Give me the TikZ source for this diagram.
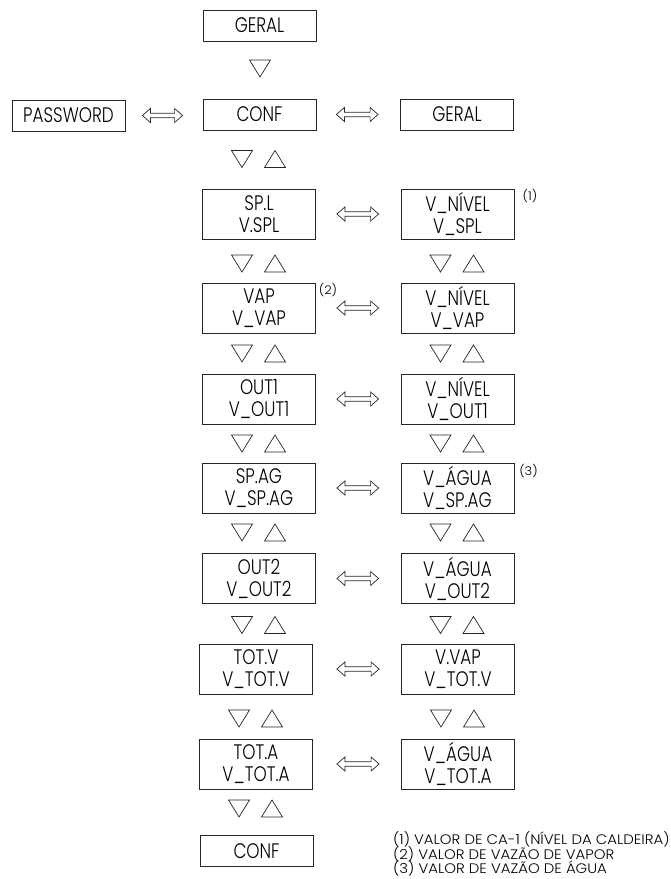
\documentclass[tikz,border=0pt]{standalone}
\usepackage{fontspec}
\setmainfont{Poppins}
\newfontfamily\labelfont{Poppins Light}[FakeStretch=0.8]
\newfontfamily\notefont{Poppins Light}[FakeStretch=1.08]
\usetikzlibrary{calc}

% hollow two-headed arrow between two points (same height as the first)
\newcommand\biarrow[2]{%
  \draw[arrline] let \p1=(#1), \p2=(#2) in
    (\x1,\y1) -- (\x1+8pt,\y1+7pt) -- (\x1+8pt,\y1+2.3pt) -- (\x2-8pt,\y1+2.3pt)
    -- (\x2-8pt,\y1+7pt) -- (\x2,\y1) -- (\x2-8pt,\y1-7pt) -- (\x2-8pt,\y1-2.3pt)
    -- (\x1+8pt,\y1-2.3pt) -- (\x1+8pt,\y1-7pt) -- cycle;}
% navigation triangles: centre x, top y
\newcommand\trdn[2]{\draw[tri] (#1-10.5,#2) -- (#1+10.5,#2) -- (#1,#2+17) -- cycle;}
\newcommand\trup[2]{\draw[tri] (#1-10.5,#2+17) -- (#1+10.5,#2+17) -- (#1,#2) -- cycle;}
\newcommand\trpair[2]{\trdn{#1-17}{#2}\trup{#1+16}{#2}}

\begin{document}
\begin{tikzpicture}[x=1pt,y=-1pt,
  box/.style={draw=black!85, line width=0.8pt, minimum width=113pt,
    minimum height=50pt, inner sep=0pt, align=center,
    font=\labelfont\fontsize{21}{22}\selectfont},
  onebox/.style={box, minimum height=31pt},
  tri/.style={draw=black!85, line width=0.7pt, line join=miter},
  arrline/.style={draw=black!85, line width=0.7pt},
  fnote/.style={font=\notefont\fontsize{12}{13}\selectfont, inner sep=0pt},
  legend/.style={font=\notefont\fontsize{13.8}{14.5}\selectfont, inner sep=0pt, anchor=base west}]
\useasboundingbox (0,0) rectangle (671,879);

% top of the menu
\node[onebox] (geral0) at (259.5,25.5) {GERAL};
\node[onebox] (conf0)  at (259.5,114.5) {CONF};
\node[onebox] (pass)   at (68.5,115.5) {PASSWORD};
\node[onebox] (geral1) at (457,114.5) {GERAL};

% parameter column
\node[box] (spl)  at (259,214)   {SP.L\\V.SPL};
\node[box] (vap)  at (259,308)   {VAP\\V\_VAP};
\node[box] (out1) at (259,399)   {OUT1\\V\_OUT1};
\node[box] (spag) at (259,488)   {SP.AG\\V\_SP.AG};
\node[box] (out2) at (259,578.5) {OUT2\\V\_OUT2};
\node[box] (totv) at (256,669)   {TOT.V\\V\_TOT.V};
\node[box] (tota) at (256,764)   {TOT.A\\V\_TOT.A};
\node[onebox] (conf1) at (256.5,851) {CONF};

% value column
\node[box] (r1) at (457.5,214)   {V\_NÍVEL\\V\_SPL};
\node[box] (r2) at (457.5,308)   {V\_NÍVEL\\V\_VAP};
\node[box] (r3) at (457.5,399)   {V\_NÍVEL\\V\_OUT1};
\node[box] (r4) at (457.5,488)   {V\_ÁGUA\\V\_SP.AG};
\node[box] (r5) at (457.5,578.5) {V\_ÁGUA\\V\_OUT2};
\node[box] (r6) at (458,669)     {V.VAP\\V\_TOT.V};
\node[box] (r7) at (458,764)     {V\_ÁGUA\\V\_TOT.A};

% footnote marks
\node[fnote] (f1) at (530,196) {(1)};
\node[fnote] (f2) at (328,290.5) {(2)};
\node[fnote] (f3) at (528.5,471) {(3)};

% two-way links
\biarrow{[xshift=17pt]pass.east}{[xshift=-20pt]conf0.west}
\biarrow{[xshift=20pt]conf0.east}{[xshift=-22pt]geral1.west}
\biarrow{[xshift=21pt]spl.east}{[xshift=-22pt]r1.west}
\biarrow{[xshift=21pt]vap.east}{[xshift=-22pt]r2.west}
\biarrow{[xshift=21pt]out1.east}{[xshift=-22pt]r3.west}
\biarrow{[xshift=21pt]spag.east}{[xshift=-22pt]r4.west}
\biarrow{[xshift=21pt]out2.east}{[xshift=-22pt]r5.west}
\biarrow{[xshift=24pt]totv.east}{[xshift=-22pt]r6.west}
\biarrow{[xshift=24pt]tota.east}{[xshift=-22pt]r7.west}

% navigation keys
\trdn{260}{60}
\trpair{259}{150.5}
\trpair{259}{255}
\trpair{259}{345}
\trpair{259}{435}
\trpair{259}{524}
\trpair{259}{616.5}
\trpair{256}{710}
\trpair{256}{800}
\trpair{457.5}{255}
\trpair{457.5}{345}
\trpair{457.5}{435}
\trpair{457.5}{524}
\trpair{457.5}{616.5}
\trpair{458}{710}

% notes
\node[legend] (l1) at (393,844.5) {(1) VALOR DE CA-1 (NÍVEL DA CALDEIRA)};
\node[legend] (l2) at (393,859)   {(2) VALOR DE VAZÃO DE VAPOR};
\node[legend] (l3) at (393,873.5) {(3) VALOR DE VAZÃO DE ÁGUA};
\end{tikzpicture}
\end{document}
